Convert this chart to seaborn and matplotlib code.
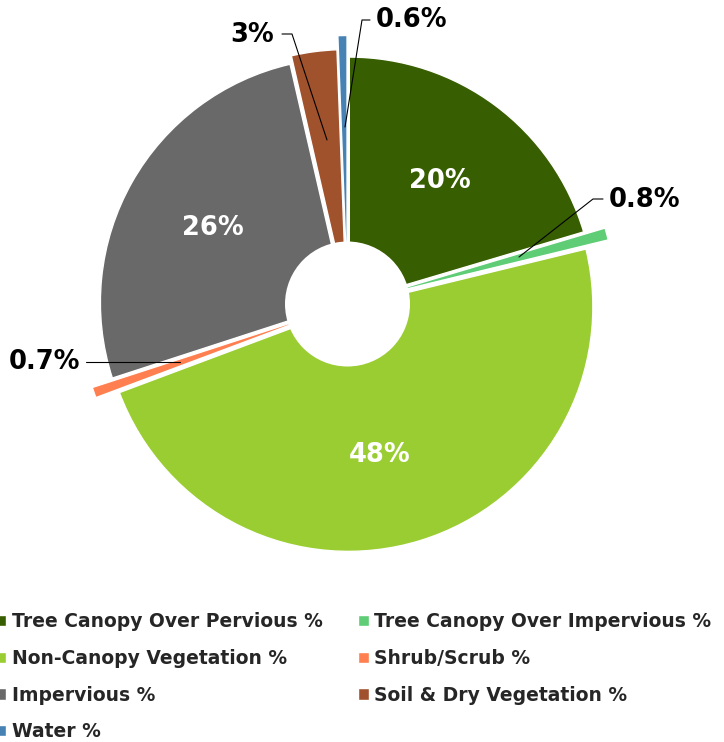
import matplotlib
matplotlib.use("Agg")
import matplotlib.pyplot as plt
from matplotlib.patches import Circle
import seaborn as sns

# ---- data ----
categories = [
    "Tree Canopy Over Pervious %",
    "Tree Canopy Over Impervious %",
    "Non-Canopy Vegetation %",
    "Shrub/Scrub %",
    "Impervious %",
    "Soil & Dry Vegetation %",
    "Water %",
]
values = [20.4, 0.8, 48.1, 0.7, 26.4, 3.0, 0.6]
value_labels = ["20%", "0.8%", "48%", "0.7%", "26%", "3%", "0.6%"]
colors = ["#375E00", "#5FCC76", "#9ACD32", "#FF7F50", "#696969", "#A0522D", "#4682B4"]

# ---- style ----
sns.set_theme(style="white")
plt.rcParams["font.family"] = ["DejaVu Sans"]

W, H = 724, 742
fig = plt.figure(figsize=(W / 100, H / 100), dpi=100)
ax = fig.add_axes([0, 0, 1, 1])

cx, cy = 347.5, H - 304
explode = [3, 24, 3, 24, 3, 10, 24]

wedges, _ = ax.pie(
    values,
    colors=colors,
    startangle=90,
    counterclock=False,
    radius=244.5,
    center=(cx, cy),
    explode=explode,
    wedgeprops=dict(edgecolor="white", linewidth=1.0),
)
ax.add_patch(Circle((cx, cy), 62.5, facecolor="white", edgecolor="none", zorder=5))

ax.set_xlim(0, W)
ax.set_ylim(0, H)
ax.set_aspect("auto")
ax.axis("off")

def py(y):
    return H - y

lab_kw = dict(fontsize=18.5, fontweight="bold", va="center")
# inside labels
ax.text(440, py(181), value_labels[0], color="white", ha="center", zorder=6, **lab_kw)
ax.text(380, py(455), value_labels[2], color="white", ha="center", zorder=6, **lab_kw)
ax.text(213, py(228), value_labels[4], color="white", ha="center", zorder=6, **lab_kw)

# outside labels with leader lines
line_kw = dict(color="black", linewidth=0.8, zorder=7)
ax.plot([519, 593, 603], [py(257), py(199), py(199)], **line_kw)
ax.text(609, py(200), value_labels[1], color="black", ha="left", **lab_kw)

ax.plot([86, 180], [py(362), py(362)], **line_kw)
ax.text(80, py(362), value_labels[3], color="black", ha="right", **lab_kw)

ax.plot([282, 292, 327], [py(34), py(34), py(140)], **line_kw)
ax.text(274, py(35), value_labels[5], color="black", ha="right", **lab_kw)

ax.plot([345, 362, 370], [py(127), py(20), py(20)], **line_kw)
ax.text(376, py(20), value_labels[6], color="black", ha="left", **lab_kw)

# legend (row-major order in two columns)
order = [0, 2, 4, 6, 1, 3, 5]
leg = fig.legend(
    [wedges[i] for i in order],
    [categories[i] for i in order],
    ncol=2,
    loc="upper left",
    bbox_to_anchor=(-4 / W, 1 - 612 / H),
    frameon=False,
    fontsize=13.5,
    handlelength=0.55,
    handleheight=0.55,
    handletextpad=0.3,
    labelspacing=0.95,
    columnspacing=1.9,
    borderpad=0,
    borderaxespad=0,
)
for t in leg.get_texts():
    t.set_color("#262626")
    t.set_fontweight("bold")

fig.savefig("out.png", dpi=100)
